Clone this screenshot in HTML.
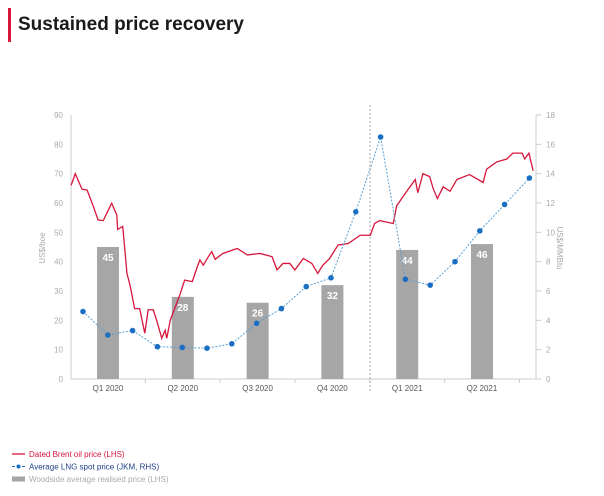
<!DOCTYPE html>
<html><head><meta charset="utf-8"><style>
body{margin:0;background:#fff;width:604px;height:496px;overflow:hidden;font-family:"Liberation Sans",sans-serif}
svg{display:block}
</style></head><body>
<svg id="c" width="604" height="496">
<rect x="8" y="8" width="3" height="34" fill="#d7163b"/>
<text x="18" y="30" font-size="19" font-weight="bold" fill="#1a1a1a">Sustained price recovery</text>
<g id="g"></g>
</svg>
<script>
const quarters=["Q1 2020","Q2 2020","Q3 2020","Q4 2020","Q1 2021","Q2 2021"];
const realised=[45,28,26,32,44,46];
const lng=[4.6,3.0,3.3,2.2,2.15,2.1,2.4,3.8,4.8,6.3,6.9,11.4,16.5,6.8,6.4,8.0,10.1,11.9,13.7];
const brentDays=[0,1,5,13,19,25,32,38,44,48,54,55,61,66,70,75,81,87,91,97,101,107,111,113,117,123,129,134,143,149,152,156,162,166,170,179,196,208,223,237,243,250,258,264,274,284,291,297,305,315,327,341,353,358,364,380,384,396,406,409,415,423,427,432,439,447,455,470,486,490,502,514,521,532,535,540,545];
const brentVals=[66,66.7,70,64.7,64.4,59.9,54.2,54,57.6,59.9,55.9,51,52,36,31.5,24,24,15.6,23.6,23.6,20,13.9,16.6,13.9,20,24.6,29.2,33.7,33.2,38.3,40.6,38.8,41.7,43.4,40.8,42.8,44.5,42.3,42.8,41.7,37.2,39.4,39.4,37.2,41.1,39.4,36,38.8,41.1,45.7,46.2,49,49,53,54,53,59,64,68,63.5,70,69,65,61.5,65.5,64,68,69.7,67,71.5,74,75,77,77,75,77,71];
const leftTicks=[0,10,20,30,40,50,60,70,80,90];
const rightTicks=[0,2,4,6,8,10,12,14,16,18];

const NS="http://www.w3.org/2000/svg",g=document.getElementById('g');
function el(t,a,p){const e=document.createElementNS(NS,t);for(const k in a)e.setAttribute(k,a[k]);(p||g).appendChild(e);return e;}
const X0=71,X1=535,Y0=379,Y1=115;
const yL=v=>Y0-(v/90)*(Y0-Y1);
const yR=v=>Y0-(v/18)*(Y0-Y1);
const xDay=d=>X0+d*0.848;
const xQ=i=>108+i*74.8;
const xM=i=>83+i*24.8;
let a=el('line',{x1:X0,y1:Y1,x2:X0,y2:Y0,stroke:'#ccc'});
a=el('line',{x1:536,y1:Y1,x2:536,y2:Y0,stroke:'#ccc'});
a=el('line',{x1:X0,y1:Y0,x2:536,y2:Y0,stroke:'#ccc'});
leftTicks.forEach(v=>{const t=el('text',{x:63,y:yL(v)+3,'font-size':8,fill:'#aaa','text-anchor':'end'});t.textContent=v;
});
rightTicks.forEach(v=>{el('line',{x1:536,x2:541,y1:yR(v),y2:yR(v),stroke:'#ccc'});const t=el('text',{x:546,y:yR(v)+3,'font-size':8,fill:'#aaa'});t.textContent=v;
});
for(let i=0;i<6;i++){const tx=xQ(i)+37.4;el('line',{x1:tx,x2:tx,y1:Y0,y2:Y0+4,stroke:'#ccc'});}
let t=el('text',{transform:'translate(45,248) rotate(-90)','font-size':8,fill:'#aaa','text-anchor':'middle'});t.textContent='US$/boe';

t=el('text',{transform:'translate(557,248) rotate(90)','font-size':8,fill:'#aaa','text-anchor':'middle'});t.textContent='US$/MMBtu';

realised.forEach((v,i)=>{const b=el('rect',{x:xQ(i)-11,y:yL(v),width:22,height:Y0-yL(v),fill:'#a6a6a6'});

const l=el('text',{x:xQ(i),y:yL(v)+14,'font-size':10,'font-weight':'bold',fill:'#fff','text-anchor':'middle'});l.textContent=v;

const q=el('text',{x:xQ(i),y:391,'font-size':8,fill:'#555','text-anchor':'middle'});q.textContent=quarters[i];
});
a=el('line',{x1:370,x2:370,y1:105,y2:393,stroke:'#aaa','stroke-dasharray':'2,2'});
let p=el('polyline',{points:brentDays.map((d,i)=>xDay(d)+','+yL(brentVals[i])).join(' '),fill:'none',stroke:'#d7163b','stroke-width':1.3});

p=el('polyline',{points:lng.map((v,i)=>xM(i)+','+yR(v)).join(' '),fill:'none',stroke:'#5a9fd4','stroke-width':1,'stroke-dasharray':'2,1.5'});

lng.forEach((v,i)=>{const c=el('circle',{cx:xM(i),cy:yR(v),r:2.8,fill:'#1b6fc2'});
});
const lg=[['Dated Brent oil price (LHS)','#d7163b'],['Average LNG spot price (JKM, RHS)','#1f3f8a'],['Woodside average realised price (LHS)','#aaa']];
lg.forEach((r,i)=>{const y=454+i*12.5;
if(i==0)el('line',{x1:12,x2:25,y1:y,y2:y,stroke:'#d7163b','stroke-width':1.3});
if(i==1){el('line',{x1:12,x2:25,y1:y,y2:y,stroke:'#1b6fc2','stroke-dasharray':'3,2'});el('circle',{cx:18.5,cy:y,r:2,fill:'#1b6fc2'});}
if(i==2)el('rect',{x:12,y:y-2.5,width:13,height:5,fill:'#a6a6a6'});
const tx=el('text',{x:29,y:y+3,'font-size':8,fill:r[1]});tx.textContent=r[0];
});
</script>
</body></html>
